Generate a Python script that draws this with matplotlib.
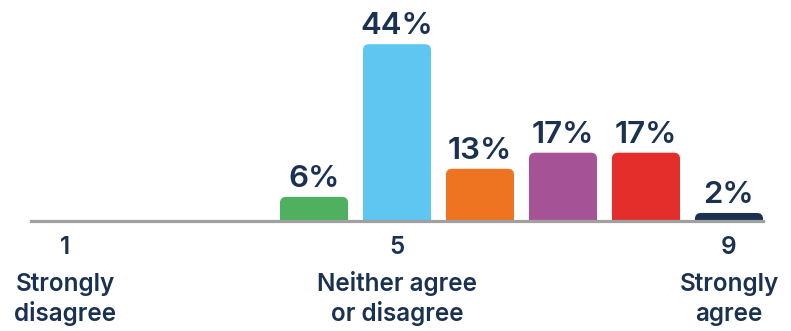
import matplotlib
matplotlib.use("Agg")
import matplotlib.pyplot as plt
from matplotlib.patches import FancyBboxPatch

# Survey response distribution on a 1-9 agreement scale
scale_points = [1, 2, 3, 4, 5, 6, 7, 8, 9]
shares = [0, 0, 0, 6, 44, 13, 17, 17, 2]
bar_colors = ["#ffffff", "#ffffff", "#ffffff", "#4fb160", "#5ec6f0",
              "#ee7422", "#a65296", "#e32e2b", "#1b3152"]
anchor_labels = {1: "Strongly\ndisagree", 5: "Neither agree\nor disagree", 9: "Strongly\nagree"}

TEXT = "#1b3152"
FONT = ["Inter", "DejaVu Sans"]

W, H = 791, 331
fig = plt.figure(figsize=(W / 100, H / 100), dpi=100)
ax_left, ax_right = 31, 763
base_px = 221
ax = fig.add_axes([ax_left / W, (H - base_px) / H, (ax_right - ax_left) / W, base_px / H])
ax.set_xlim(0.59, 9.41)
ax.set_ylim(0, 55)
ax.axis("off")

bar_w = 0.82
px_per_x = (ax_right - ax_left) / (9.41 - 0.59)
px_per_y = base_px / 55
radius_px = 6
r_x = radius_px / px_per_x
aspect = px_per_x / px_per_y

for pos, val, col in zip(scale_points, shares, bar_colors):
    if val <= 0:
        continue
    patch = FancyBboxPatch((pos - bar_w / 2, -3), bar_w, val + 3,
                           boxstyle=f"round,pad=0,rounding_size={r_x}",
                           mutation_aspect=aspect, facecolor=col,
                           edgecolor="none", clip_on=True)
    ax.add_patch(patch)
    ax.annotate(f"{val}%", xy=(pos, val), xytext=(0, 7.2), textcoords="offset points",
                ha="center", va="baseline", fontsize=22.5, color=TEXT,
                family=FONT, fontweight="semibold")

# baseline rule
ax.axhline(0, color="#a0a0a0", linewidth=2.3, clip_on=False, zorder=5)

for pos, text in anchor_labels.items():
    ax.annotate(str(pos), xy=(pos, 0), xytext=(0, -(254 - base_px) * 0.72),
                textcoords="offset points", ha="center", va="baseline",
                fontsize=17.5, color=TEXT, family=FONT, fontweight="semibold",
                annotation_clip=False)
    line1, line2 = text.split("\n")
    for line, base in ((line1, 291), (line2, 321)):
        ax.annotate(line, xy=(pos, 0), xytext=(0, -(base - base_px) * 0.72),
                    textcoords="offset points", ha="center", va="baseline",
                    fontsize=17.5, color=TEXT, family=FONT, fontweight="semibold",
                    annotation_clip=False)

fig.savefig("out.png", dpi=100)
